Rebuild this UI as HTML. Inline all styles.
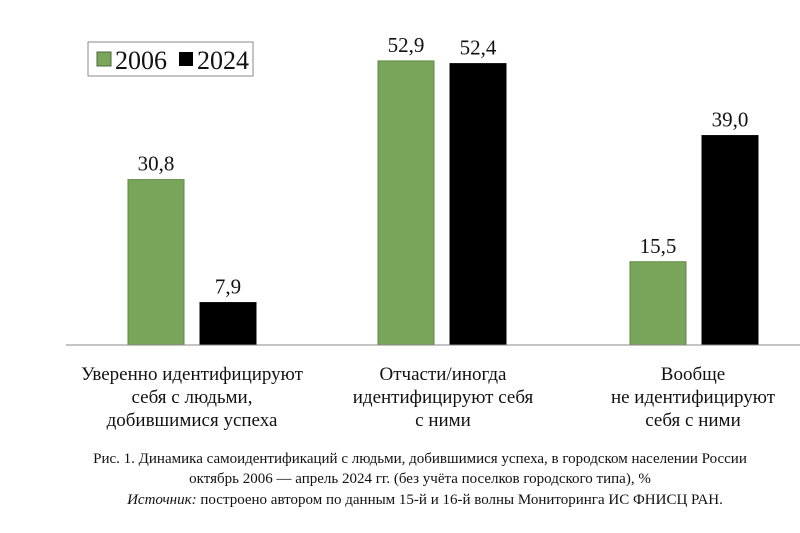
<!DOCTYPE html>
<html><head><meta charset="utf-8"><style>
body{margin:0;background:#fff;width:800px;height:528px;overflow:hidden}
svg text{font-family:"Liberation Serif",serif;fill:#111}
</style></head><body>
<svg width="800" height="528">
<g id="bars"></g>
<line x1="66" y1="345" x2="800" y2="345" stroke="#888" stroke-width="1"/>
<g>
<rect x="88" y="42" width="165" height="34" fill="#fff" stroke="#888"/>
<rect x="97" y="52" width="14" height="14" fill="#78a55a" stroke="#4a6a38"/>
<text x="115" y="69" font-size="26">2006</text>
<rect x="179" y="52" width="14" height="14" fill="#000"/>
<text x="197" y="69" font-size="26">2024</text>
</g>
<g font-size="19" text-anchor="middle">
<text x="192" y="380">Уверенно идентифицируют</text>
<text x="192" y="403">себя с людьми,</text>
<text x="192" y="426">добившимися успеха</text>
<text x="443" y="380">Отчасти/иногда</text>
<text x="443" y="403">идентифицируют себя</text>
<text x="443" y="426">с ними</text>
<text x="693" y="380">Вообще</text>
<text x="693" y="403">не идентифицируют</text>
<text x="693" y="426">себя с ними</text>
</g>
<g font-size="15" text-anchor="middle">
<text x="420" y="463">Рис. 1. Динамика самоидентификаций с людьми, добившимися успеха, в городском населении России</text>
<text x="420" y="483">октябрь 2006 — апрель 2024 гг. (без учёта поселков городского типа), %</text>
<text x="425" y="504"><tspan font-style="italic">Источник:</tspan> построено автором по данным 15-й и 16-й волны Мониторинга ИС ФНИСЦ РАН.</text>
</g>
</svg>
<script>
const categories=["Уверенно","Отчасти","Вообще"];
const values2006=[30.8,52.9,15.5];
const values2024=[7.9,52.4,39.0];
const labels2006=["30,8","52,9","15,5"];
const labels2024=["7,9","52,4","39,0"];
const baseY=345, scale=5.37;
const groupX=[128,378,630], barW=56, gap=72;
const y=v=>baseY-v*scale;
const g=document.getElementById('bars');
const NS="http://www.w3.org/2000/svg";
function bar(x,v,fill,name,label){
  const r=document.createElementNS(NS,'rect');
  r.setAttribute('x',x);r.setAttribute('y',y(v));r.setAttribute('width',barW);r.setAttribute('height',v*scale);
  r.setAttribute('fill',fill);r.setAttribute('stroke',fill==='#000'?'#000':'#5e8a45');
  
  
  g.appendChild(r);
  const t=document.createElementNS(NS,'text');
  t.setAttribute('x',x+barW/2);t.setAttribute('y',y(v)-9);t.setAttribute('text-anchor','middle');t.setAttribute('font-size','21');
  t.textContent=label;
  
  
  g.appendChild(t);
}
categories.forEach((c,i)=>{
  bar(groupX[i],values2006[i],'#78a55a','bar-2006-'+(i+1),labels2006[i]);
  bar(groupX[i]+gap,values2024[i],'#000','bar-2024-'+(i+1),labels2024[i]);
});
</script>
</body></html>
